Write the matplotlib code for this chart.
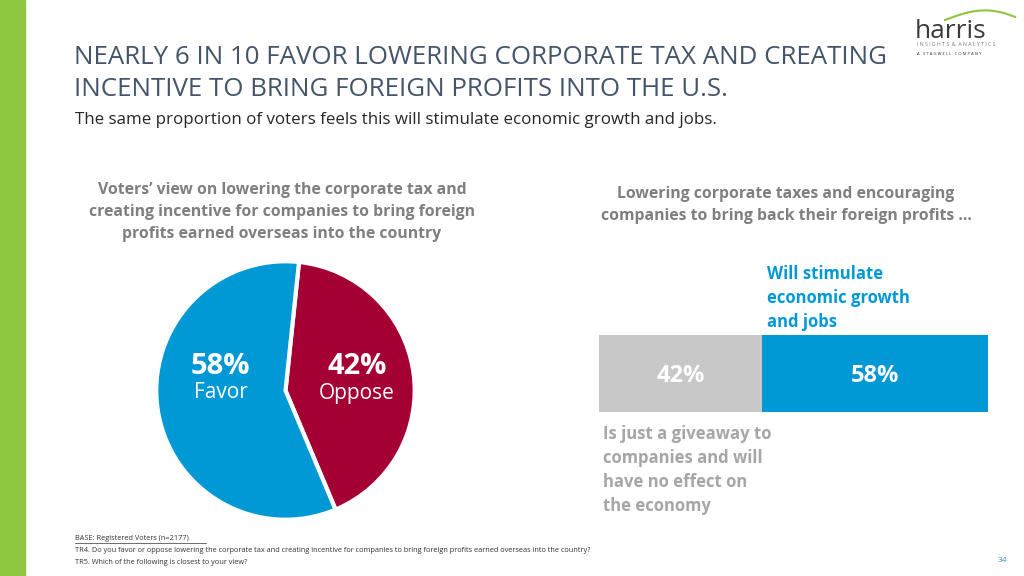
import matplotlib
matplotlib.use("Agg")
from matplotlib import pyplot as plt
from matplotlib.lines import Line2D
import numpy as np

plt.rcParams['font.family'] = ['Open Sans', 'DejaVu Sans']

# data
pie_labels = ["Favor", "Oppose"]
pie_values = [58, 42]
bar_labels = ["Is just a giveaway to\ncompanies and will\nhave no effect on\nthe economy",
              "Will stimulate\neconomic growth\nand jobs"]
bar_values = [42, 58]

BLUE = "#0099D6"
RED = "#A50034"
GRAY = "#C8C8C8"
GREEN = "#8DC63F"
TITLE = "#44546A"
SUBGRAY = "#7F7F7F"

W, H = 1024, 576
fig = plt.figure(figsize=(W / 100, H / 100), dpi=100)
fig.patch.set_facecolor("white")


def px(x, y):
    # pixel coords (from top-left) to figure fraction
    return x / W, 1 - y / H


def txt(x, y, s, **kw):
    fx, fy = px(x, y)
    return fig.text(fx, fy, s, **kw)


# green side strip
fig.patches.append(plt.Rectangle((0, 0), 25 / W, 1, transform=fig.transFigure,
                                 color=GREEN, zorder=0))

# title
txt(74, 57, "NEARLY 6 IN 10 FAVOR LOWERING CORPORATE TAX AND CREATING",
    fontsize=18.6, color=TITLE, va="center")
txt(74, 89, "INCENTIVE TO BRING FOREIGN PROFITS INTO THE U.S.",
    fontsize=18.6, color=TITLE, va="center")
txt(75, 120, "The same proportion of voters feels this will stimulate economic growth and jobs.",
    fontsize=12.2, color="#262626", va="center")

# logo
txt(915, 32, "harris", fontsize=19, color="#3A3A3A", va="center")
txt(917, 45, "I N S I G H T S  &  A N A L Y T I C S", fontsize=3.7, color="#777777", va="center")
txt(917, 54, "A   S T A G W E L L   C O M P A N Y", fontsize=3.0, color="#333333", va="center")
t = np.linspace(0, 1, 50)
ax_logo = fig.add_axes([0, 0, 1, 1], facecolor="none")
ax_logo.set_xlim(0, W)
ax_logo.set_ylim(H, 0)
ax_logo.axis("off")
ax_logo.plot(945 + 70 * t, 20 - 12 * np.sin(np.pi * t * 0.8) + 4 * t, color=GREEN, lw=1.5)

# left panel heading
txt(282, 212, "Voters’ view on lowering the corporate tax and\n"
              "creating incentive for companies to bring foreign\n"
              "profits earned overseas into the country",
    fontsize=11.3, color=SUBGRAY, weight="bold", ha="center", va="center",
    linespacing=1.5)

# pie
ax_pie = fig.add_axes([155 / W, 1 - 521 / H, 261 / W, 261 / H])
ax_pie.pie(pie_values[::-1], colors=[RED, BLUE], startangle=84, counterclock=False,
           wedgeprops=dict(edgecolor="white", linewidth=3))
ax_pie.set_xlim(-1.01, 1.01)
ax_pie.set_ylim(-1.01, 1.01)
ax_pie.set_aspect("equal")
txt(220, 367, f"{pie_values[0]}%", fontsize=21, weight="bold", color="white", ha="center", va="center")
txt(221, 393, pie_labels[0], fontsize=15, color="white", ha="center", va="center")
txt(357, 367, f"{pie_values[1]}%", fontsize=21, weight="bold", color="white", ha="center", va="center")
txt(357, 393, pie_labels[1], fontsize=15, color="white", ha="center", va="center")

# right panel heading
txt(786, 205, "Lowering corporate taxes and encouraging\n"
              "companies to bring back their foreign profits …",
    fontsize=11.3, color=SUBGRAY, weight="bold", ha="center", va="center",
    linespacing=1.5)

# stacked bar
ax_bar = fig.add_axes([599 / W, 1 - 412 / H, 389 / W, 77 / H])
ax_bar.barh([0], [bar_values[0]], color=GRAY, height=1)
ax_bar.barh([0], [bar_values[1]], left=[bar_values[0]], color=BLUE, height=1)
ax_bar.set_xlim(0, sum(bar_values))
ax_bar.set_ylim(-0.5, 0.5)
ax_bar.axis("off")
ax_bar.text(bar_values[0] / 2, -0.03, f"{bar_values[0]}%", color="white", fontsize=17,
            weight="bold", ha="center", va="center")
ax_bar.text(bar_values[0] + bar_values[1] / 2, -0.03, f"{bar_values[1]}%", color="white",
            fontsize=17, weight="bold", ha="center", va="center")

txt(767, 298, bar_labels[1], fontsize=12, color=BLUE, weight="bold", va="center",
    linespacing=1.45)
txt(603, 470, bar_labels[0], fontsize=12, color="#A6A6A6", weight="bold", va="center",
    linespacing=1.45)

# footnotes
txt(75, 539, "BASE: Registered Voters (n=2177)", fontsize=5.35, color="#333333", va="center")
ax_logo.add_line(Line2D([75, 206], [543, 543], color="#333333", lw=0.5))
txt(75, 551, "TR4. Do you favor or oppose lowering the corporate tax and creating incentive for "
             "companies to bring foreign profits earned overseas into the country?",
    fontsize=5.35, color="#333333", va="center")
txt(75, 562, "TR5. Which of the following is closest to your view?", fontsize=5.35,
    color="#333333", va="center")
txt(1002, 560, "34", fontsize=6, color="#2E9BD0", ha="center", va="center")

fig.savefig("out.png", dpi=100, facecolor="white")
